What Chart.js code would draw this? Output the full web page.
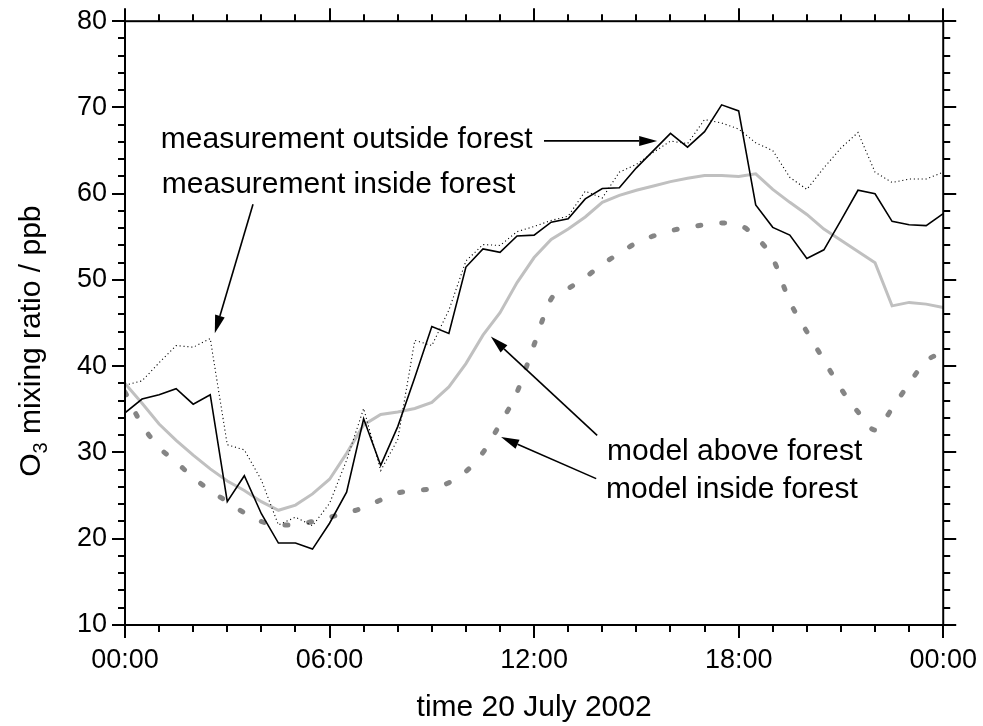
<!DOCTYPE html>
<html><head><meta charset="utf-8">
<script src="https://cdn.jsdelivr.net/npm/chart.js@4"></script>
<style>html,body{margin:0;padding:0;background:#fff;}#wrap{width:983px;height:726px;}</style>
</head><body><div id="wrap"><canvas id="c" width="983" height="726"></canvas></div>
<script>
// time in hours on 20 July 2002 (half-hourly)
const hours = [0,0.5,1,1.5,2,2.5,3,3.5,4,4.5,5,5.5,6,6.5,7,7.5,8,8.5,9,9.5,10,10.5,11,11.5,12,12.5,13,13.5,14,14.5,15,15.5,16,16.5,17,17.5,18,18.5,19,19.5,20,20.5,21,21.5,22,22.5,23,23.5,24];
// O3 mixing ratio / ppb
const measOutside = [34.6,36.2,36.7,37.4,35.6,36.7,24.3,27.3,22.9,19.5,19.5,18.8,21.8,25.4,33.9,28.5,33.0,38.7,44.6,43.8,51.5,53.6,53.2,55.1,55.2,56.7,57.1,59.4,60.6,60.7,63.0,65.0,67.0,65.4,67.2,70.3,69.6,58.7,56.1,55.2,52.5,53.5,56.9,60.4,60.0,56.8,56.4,56.3,57.7];
const measInside = [37.8,38.3,40.4,42.4,42.2,43.2,30.9,30.3,26.8,21.6,22.5,21.5,24.1,29.1,35.1,27.9,31.5,43.0,42.4,46.5,52.2,54.1,54.0,55.6,56.2,56.9,57.4,60.3,59.5,62.5,63.4,64.8,66.1,65.8,68.6,68.2,67.5,65.9,65.0,61.9,60.5,63.0,65.3,67.1,62.5,61.3,61.7,61.7,62.5];
const modelAbove = [38.0,35.7,33.3,31.4,29.7,28.1,26.7,25.6,24.3,23.3,23.9,25.2,26.9,29.9,33.2,34.4,34.7,35.1,35.8,37.6,40.3,43.6,46.2,49.7,52.6,54.7,55.9,57.3,59.0,59.8,60.4,60.9,61.4,61.8,62.1,62.1,62.0,62.3,60.5,59.0,57.6,55.9,54.6,53.3,52.0,47.0,47.4,47.2,46.8];
const modelInside = [37.0,33.2,30.6,28.9,27.1,25.6,24.3,23.0,22.0,21.6,21.6,22.0,22.5,23.0,23.6,24.5,25.3,25.6,25.8,26.5,27.8,30.0,33.3,37.0,42.5,47.8,49.0,50.3,51.8,53.1,54.3,55.1,55.7,56.1,56.4,56.6,56.4,55.0,52.5,47.5,44.0,40.7,37.4,34.7,32.6,35.1,38.0,40.6,41.6];
const xTickLabels = ['00:00','06:00','12:00','18:00','00:00'];
const seriesNames = ['measurement outside forest','measurement inside forest','model above forest','model inside forest'];
const yTitleParts = ['O', '3', ' mixing ratio / ppb']; // O, subscript 3, rest

// annotation placement in data units (hours, ppb)
const notes = [
  {text: seriesNames[0], x: 1.05, y: 65.3},
  {text: seriesNames[1], x: 1.08, y: 60.1},
  {text: seriesNames[2], x: 14.14, y: 29.1},
  {text: seriesNames[3], x: 14.11, y: 24.7}
];
const arrows = [
  {from: [12.29, 66.12], to: [15.61, 66.12]},
  {from: [3.755, 58.79], to: [2.634, 43.82]},
  {from: [13.85, 31.98], to: [10.73, 43.44]},
  {from: [13.82, 26.97], to: [11.03, 31.79]}
];

const FONT = '"Liberation Sans", Arial, Helvetica, sans-serif';
Chart.defaults.font.family = FONT;
Chart.defaults.color = '#000';

const pts = arr => hours.map((h, i) => ({x: h, y: arr[i]}));

const framePlugin = {
  id: 'frame',
  afterDraw(chart) {
    const {ctx, chartArea: {left, right, top, bottom}, scales: {x, y}} = chart;
    ctx.save();
    ctx.strokeStyle = '#000';
    ctx.fillStyle = '#000';
    ctx.lineWidth = 2;
    ctx.lineCap = 'butt';
    ctx.strokeRect(left, top, right - left, bottom - top);
    const line = (a, b, c, d) => { ctx.beginPath(); ctx.moveTo(a, b); ctx.lineTo(c, d); ctx.stroke(); };
    for (let h = x.min; h <= x.max; h += 1) {
      const px = Math.round(x.getPixelForValue(h));
      const len = h % 6 === 0 ? 13 : 7;
      line(px, bottom, px, bottom + len);
      line(px, top, px, top - len);
    }
    for (let v = y.min; v <= y.max; v += 2) {
      const py = Math.round(y.getPixelForValue(v));
      const len = v % 10 === 0 ? 13 : 7;
      line(left - len, py, left, py);
      line(right, py, right + len, py);
    }
    // y axis title with subscript
    ctx.save();
    ctx.translate(30, (top + bottom) / 2 + 18);
    ctx.rotate(-Math.PI / 2);
    ctx.textBaseline = 'alphabetic';
    ctx.textAlign = 'left';
    const big = '30px ' + FONT, small = '20px ' + FONT;
    ctx.font = big; const w0 = ctx.measureText(yTitleParts[0]).width, w2 = ctx.measureText(yTitleParts[2]).width;
    ctx.font = small; const w1 = ctx.measureText(yTitleParts[1]).width;
    let cx = -(w0 + w1 + w2) / 2;
    const base = 10;
    ctx.font = big; ctx.fillText(yTitleParts[0], cx, base); cx += w0;
    ctx.font = small; ctx.fillText(yTitleParts[1], cx, base + 7); cx += w1;
    ctx.font = big; ctx.fillText(yTitleParts[2], cx, base);
    ctx.restore();
    // annotations
    ctx.font = '30px ' + FONT;
    ctx.textBaseline = 'alphabetic';
    ctx.textAlign = 'left';
    notes.forEach(n => ctx.fillText(n.text, x.getPixelForValue(n.x), y.getPixelForValue(n.y)));
    ctx.lineWidth = 1.6;
    arrows.forEach(a => {
      const x1 = x.getPixelForValue(a.from[0]), y1 = y.getPixelForValue(a.from[1]);
      const x2 = x.getPixelForValue(a.to[0]), y2 = y.getPixelForValue(a.to[1]);
      const ang = Math.atan2(y2 - y1, x2 - x1);
      const L = 18, W = 5;
      const bx = x2 - L * Math.cos(ang), by = y2 - L * Math.sin(ang);
      line(x1, y1, bx, by);
      ctx.beginPath();
      ctx.moveTo(x2, y2);
      ctx.lineTo(bx - W * Math.sin(ang), by + W * Math.cos(ang));
      ctx.lineTo(bx + W * Math.sin(ang), by - W * Math.cos(ang));
      ctx.closePath();
      ctx.fill();
    });
    ctx.restore();
  }
};

new Chart(document.getElementById('c'), {
  type: 'line',
  data: {
    datasets: [
      {label: seriesNames[0], data: pts(measOutside), borderColor: '#000', borderWidth: 1.6, pointRadius: 0, tension: 0},
      {label: seriesNames[1], data: pts(measInside), borderColor: '#000', borderWidth: 1.1, borderDash: [1.1, 2.8], pointRadius: 0, tension: 0},
      {label: seriesNames[2], data: pts(modelAbove), borderColor: '#c0c0c0', borderWidth: 3, pointRadius: 0, tension: 0},
      {label: seriesNames[3], data: pts(modelInside), borderColor: '#858585', borderWidth: 5, borderDash: [3, 21], borderCapStyle: 'round', pointRadius: 0, cubicInterpolationMode: 'monotone'}
    ]
  },
  options: {
    responsive: false,
    animation: false,
    devicePixelRatio: 1,
    layout: {padding: {top: 20, right: 38, left: 0, bottom: 0}},
    plugins: {legend: {display: false}, tooltip: {enabled: false}},
    scales: {
      x: {
        type: 'linear', min: 0, max: 24,
        afterFit: s => { s.height = 101; },
        ticks: {stepSize: 6, autoSkip: false, maxRotation: 0, padding: 6, font: {size: 27},
          callback: v => xTickLabels[Math.round(v / 6)]},
        grid: {display: false, drawTicks: true, tickLength: 13},
        border: {display: false},
        title: {display: true, text: 'time 20 July 2002', font: {size: 30}, padding: {top: 0, bottom: 0}}
      },
      y: {
        type: 'linear', min: 10, max: 80,
        afterFit: s => { s.width = 125; },
        ticks: {stepSize: 10, padding: 5, font: {size: 27}},
        grid: {display: false, drawTicks: true, tickLength: 13},
        border: {display: false},
        title: {display: false}
      }
    }
  },
  plugins: [framePlugin]
});
</script>
</body></html>
